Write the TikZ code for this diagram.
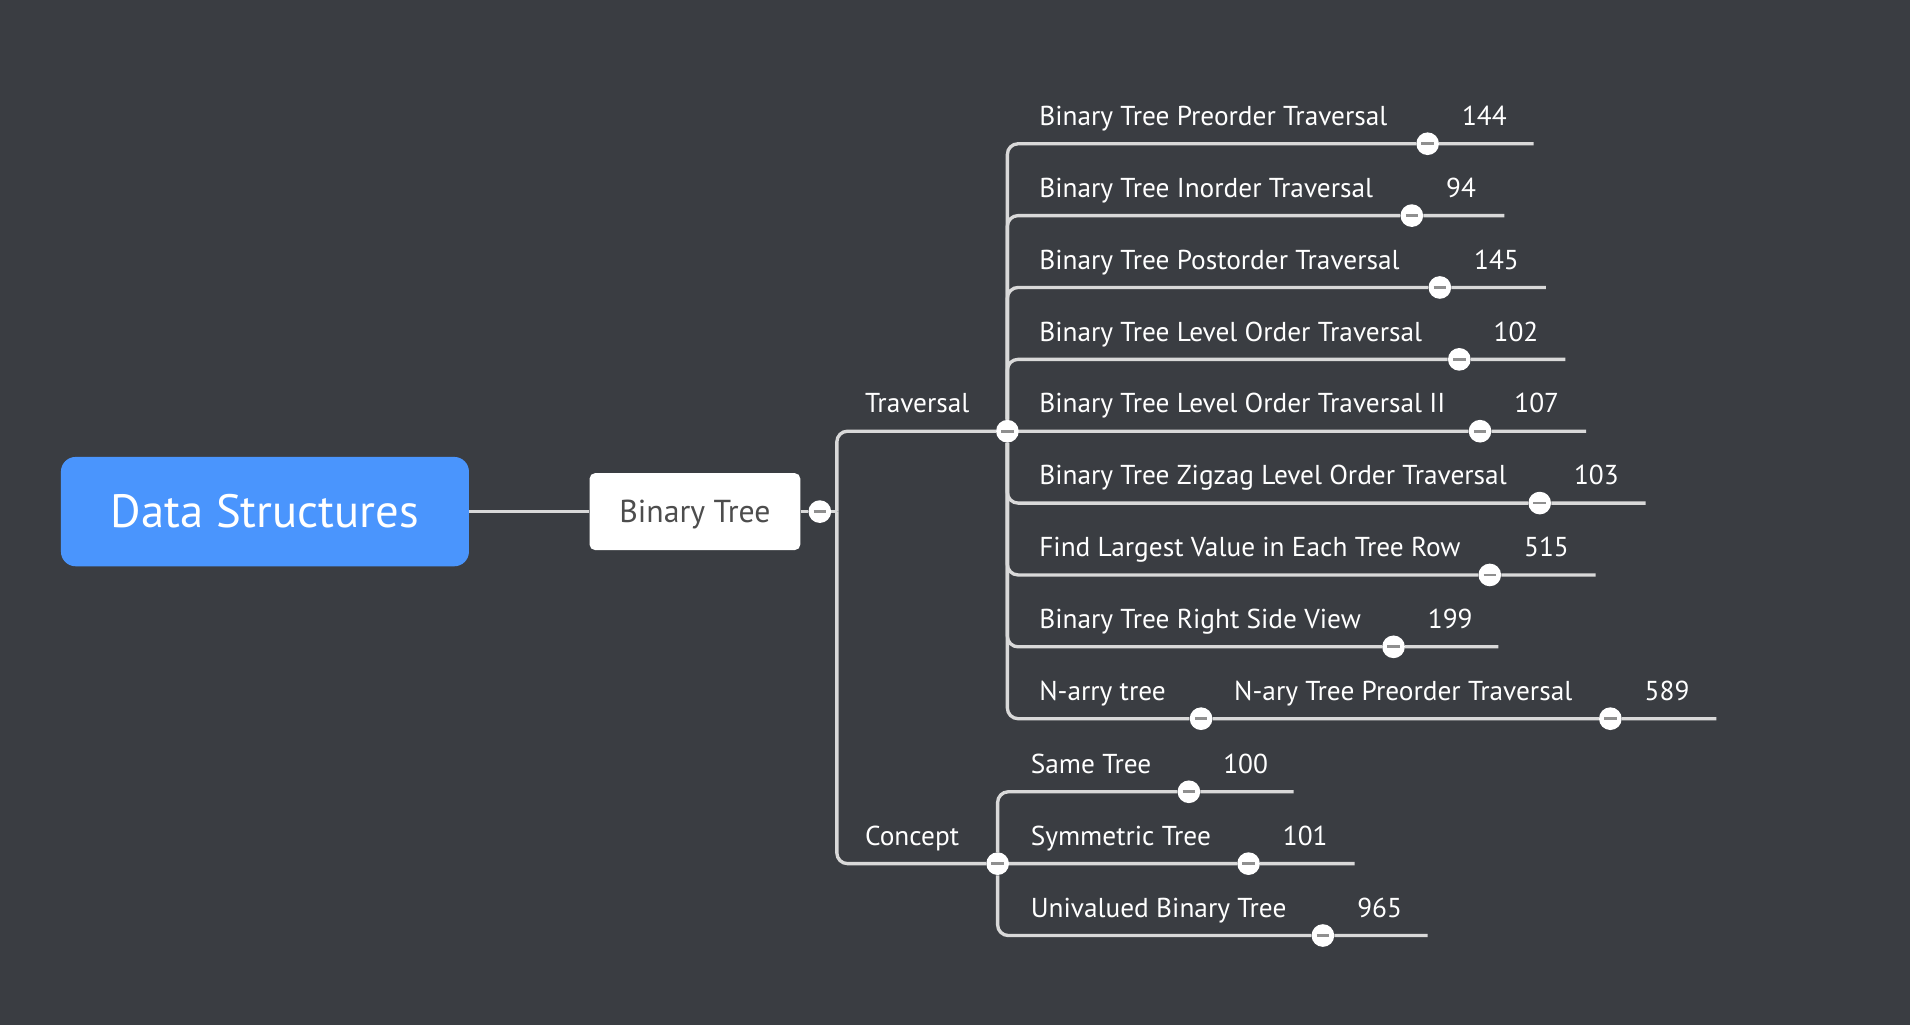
\documentclass[tikz,border=0pt]{standalone}
\usepackage{fontspec}
\setmainfont{PT Sans}
\usetikzlibrary{positioning}
\definecolor{board}{HTML}{3A3D42}
\definecolor{wiregray}{HTML}{D9D9D9}
\definecolor{rootblue}{HTML}{4A95FD}
\definecolor{boxtext}{HTML}{4D4D4D}
\definecolor{minusgray}{HTML}{8F8F8F}
\pgfdeclarelayer{boardlayer}
\pgfdeclarelayer{wirelayer}
\pgfsetlayers{boardlayer,wirelayer,main}
\tikzset{
  rootbox/.style={rectangle,rounded corners=11pt,fill=rootblue,text=white,minimum width=306pt,minimum height=82pt,font=\fontsize{35pt}{40pt}\selectfont},
  topicbox/.style={rectangle,rounded corners=4pt,fill=white,text=boxtext,text depth=0pt,minimum width=158pt,minimum height=57.6pt,font=\fontsize{23.8pt}{27pt}\selectfont},
  leaftext/.style={anchor=base west,inner sep=0pt,text=white,font=\fontsize{20.5pt}{24pt}\selectfont},
  knob/.style={circle,fill=white,inner sep=0pt,minimum size=17pt,
    path picture={\draw[minusgray,line width=2pt] ([xshift=-4.7pt]path picture bounding box.center) -- ([xshift=4.7pt]path picture bounding box.center);}},
  wire/.style={draw=wiregray,line width=2.5pt,rounded corners=8pt}
}
\begin{document}
\begin{tikzpicture}[x=0.9136pt,y=-0.9136pt]
\useasboundingbox (0,0) rectangle (1568,841);
\begin{pgfonlayer}{boardlayer}
\fill [board] (-5,-5) rectangle (1573,846);
\end{pgfonlayer}

% main topics
\node [rootbox] (root) at (217.5,420) {Data Structures};
\node [topicbox] (bt) at (570.5,420) {Binary Tree};
\node [knob] (btk) at (673,420) {};
\coordinate (btfork) at (687,420);

\node [leaftext] (trav) at (710,339) {Traversal};
\node [knob] (travk) at (827,354) {};
\node [leaftext] (conc) at (710,694) {Concept};
\node [knob] (conck) at (819,709) {};

% traversal problems
\node [leaftext] (t1) at (853,103) {Binary Tree Preorder Traversal};
\node [knob] (t1k) at (1172,118) {};
\node [leaftext] (t1n) at (1200,103) {144};
\coordinate (t1e) at (1259,118);

\node [leaftext] (t2) at (853,162) {Binary Tree Inorder Traversal};
\node [knob] (t2k) at (1159,177) {};
\node [leaftext] (t2n) at (1187,162) {94};
\coordinate (t2e) at (1235,177);

\node [leaftext] (t3) at (853,221) {Binary Tree Postorder Traversal};
\node [knob] (t3k) at (1182,236) {};
\node [leaftext] (t3n) at (1210,221) {145};
\coordinate (t3e) at (1269,236);

\node [leaftext] (t4) at (853,280) {Binary Tree Level Order Traversal};
\node [knob] (t4k) at (1198,295) {};
\node [leaftext] (t4n) at (1226,280) {102};
\coordinate (t4e) at (1285,295);

\node [leaftext] (t5) at (853,339) {Binary Tree Level Order Traversal II};
\node [knob] (t5k) at (1215,354) {};
\node [leaftext] (t5n) at (1243,339) {107};
\coordinate (t5e) at (1302,354);

\node [leaftext] (t6) at (853,398) {Binary Tree Zigzag Level Order Traversal};
\node [knob] (t6k) at (1264,413) {};
\node [leaftext] (t6n) at (1292,398) {103};
\coordinate (t6e) at (1351,413);

\node [leaftext] (t7) at (853,457) {Find Largest Value in Each Tree Row};
\node [knob] (t7k) at (1223,472) {};
\node [leaftext] (t7n) at (1251,457) {515};
\coordinate (t7e) at (1310,472);

\node [leaftext] (t8) at (853,516) {Binary Tree Right Side View};
\node [knob] (t8k) at (1144,531) {};
\node [leaftext] (t8n) at (1172,516) {199};
\coordinate (t8e) at (1230,531);

\node [leaftext] (t9) at (853,575) {N-arry tree};
\node [knob] (t9k) at (986,590) {};
\node [leaftext] (t9a) at (1013,575) {N-ary Tree Preorder Traversal};
\node [knob] (t9ak) at (1322,590) {};
\node [leaftext] (t9n) at (1350,575) {589};
\coordinate (t9e) at (1409,590);

% concept problems
\node [leaftext] (c1) at (846,635) {Same Tree};
\node [knob] (c1k) at (976,650) {};
\node [leaftext] (c1n) at (1004,635) {100};
\coordinate (c1e) at (1062,650);

\node [leaftext] (c2) at (846,694) {Symmetric Tree};
\node [knob] (c2k) at (1025,709) {};
\node [leaftext] (c2n) at (1053,694) {101};
\coordinate (c2e) at (1112,709);

\node [leaftext] (c3) at (846,753) {Univalued Binary Tree};
\node [knob] (c3k) at (1086,768) {};
\node [leaftext] (c3n) at (1114,753) {965};
\coordinate (c3e) at (1172,768);

\begin{pgfonlayer}{wirelayer}
\draw [wire] (root.east) -- (bt.west);
\draw [wire] (bt.east) -- (btk) -- (btfork);
\draw [wire] (btfork) |- (travk);
\draw [wire] (btfork) |- (conck);

\draw [wire] (travk) |- (t1k) -- (t1e);
\draw [wire] (travk) |- (t2k) -- (t2e);
\draw [wire] (travk) |- (t3k) -- (t3e);
\draw [wire] (travk) |- (t4k) -- (t4e);
\draw [wire] (travk) |- (t5k) -- (t5e);
\draw [wire] (travk) |- (t6k) -- (t6e);
\draw [wire] (travk) |- (t7k) -- (t7e);
\draw [wire] (travk) |- (t8k) -- (t8e);
\draw [wire] (travk) |- (t9k) -- (t9ak) -- (t9e);

\draw [wire] (conck) |- (c1k) -- (c1e);
\draw [wire] (conck) |- (c2k) -- (c2e);
\draw [wire] (conck) |- (c3k) -- (c3e);
\end{pgfonlayer}
\end{tikzpicture}
\end{document}
